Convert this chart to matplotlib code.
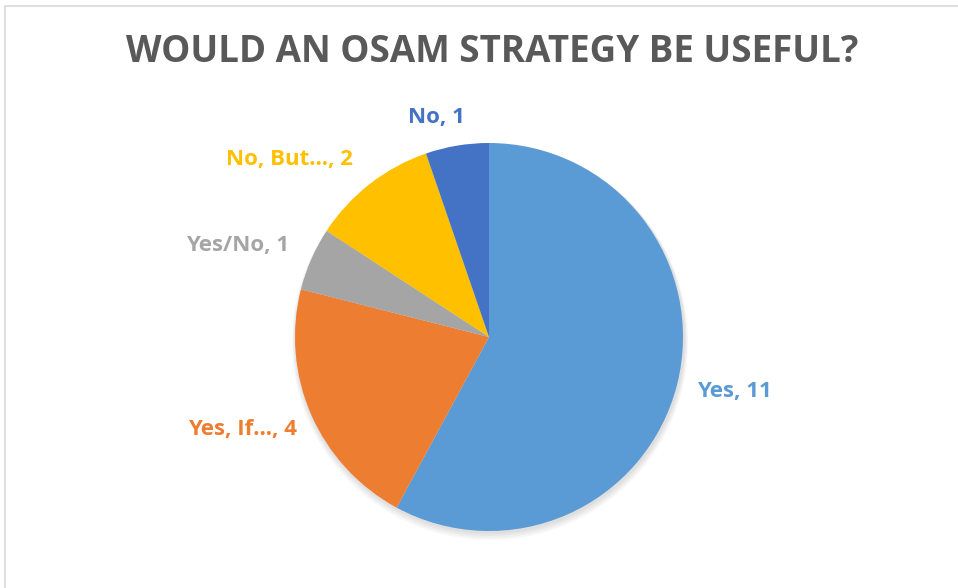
import matplotlib
matplotlib.use('Agg')
import matplotlib.pyplot as plt
from matplotlib.patches import Rectangle

plt.rcParams['font.family'] = ['Open Sans', 'DejaVu Sans']

categories = ['Yes', 'Yes, If…', 'Yes/No', 'No, But…', 'No']
counts = [11, 4, 1, 2, 1]
colors = ['#5B9BD5', '#ED7D31', '#A5A5A5', '#FFC000', '#4472C4']
# label anchor points (pixels, top-left origin)
label_pos = [(734, 392), (243, 430), (238, 246), (290, 160), (436, 118)]

W, H = 958, 588
fig = plt.figure(figsize=(W / 100, H / 100), dpi=100)
ax = fig.add_axes([0, 0, 1, 1])
ax.set_xlim(0, W)
ax.set_ylim(0, H)
ax.set_aspect('equal')
ax.axis('off')

# chart frame
ax.add_patch(Rectangle((5.5, -10), W + 20, H - 5.5 + 10, fill=False,
                       edgecolor='#D9D9D9', linewidth=1.2))

cx, cy, r = 489, H - 337, 194
# soft shadow
for i in range(4):
    ax.add_patch(plt.Circle((cx + 1, cy - 2 - i), r + 1 + i, color='black',
                            alpha=0.03, lw=0))
ax.pie(counts, colors=colors, startangle=90, counterclock=False,
       center=(cx, cy), radius=r, wedgeprops=dict(linewidth=0))
ax.set_xlim(0, W)
ax.set_ylim(0, H)

for cat, n, col, (x, y) in zip(categories, counts, colors, label_pos):
    ax.text(x, H - y, f'{cat}, {n}', color=col, fontsize=16,
            fontweight='bold', ha='center', va='center')

ax.text(492, H - 52, 'WOULD AN OSAM STRATEGY BE USEFUL?', color='#595959',
        fontsize=26.5, fontweight='bold', ha='center', va='center')

fig.savefig('out.png', dpi=100)
